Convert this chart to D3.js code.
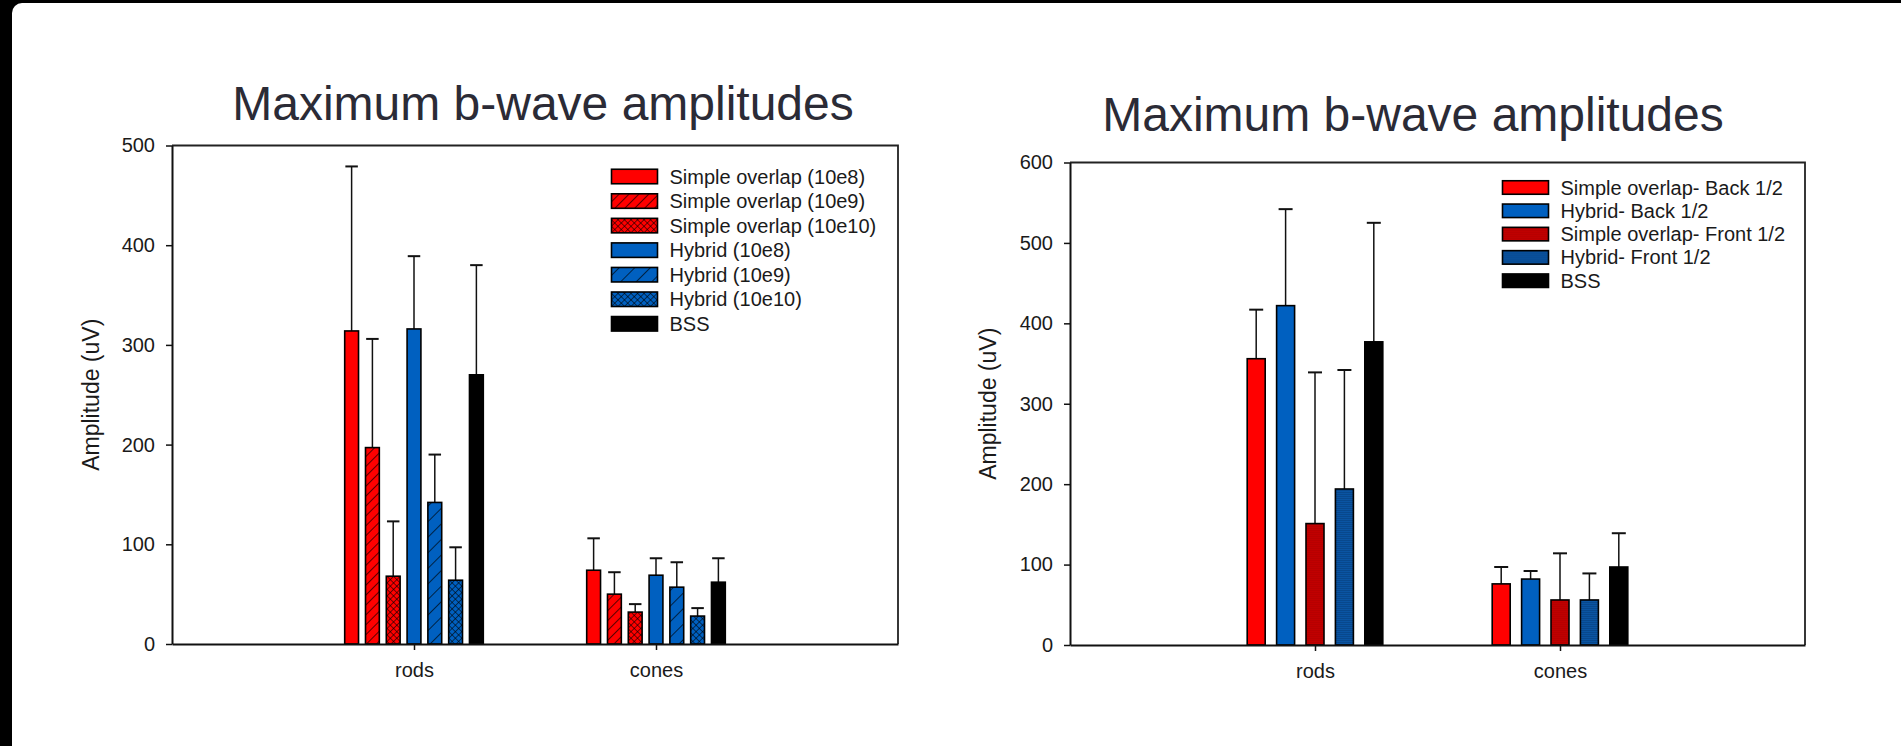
<!DOCTYPE html>
<html>
<head>
<meta charset="utf-8">
<script src="https://cdn.jsdelivr.net/npm/d3@7"></script>
<style>
    body { margin: 0; background: #000; width: 1901px; height: 746px; overflow: hidden; position: relative; }
    #sheet { position: absolute; left: 12px; top: 3px; width: 1889px; height: 743px; background: #fff; border-top-left-radius: 10px; }
    #chart { position: absolute; left: 0; top: 0; }
    text { font-family: "Liberation Sans", Arial, sans-serif; fill: #1a1a1a; }
</style>
</head>
<body>
<div id="sheet"></div>
<svg id="chart" width="1901" height="746"></svg>
<script>
// ---- data ----
const categories = ["rods", "cones"];

// left panel
const leftSeries = ["Simple overlap (10e8)", "Simple overlap (10e9)", "Simple overlap (10e10)",
    "Hybrid (10e8)", "Hybrid (10e9)", "Hybrid (10e10)", "BSS"];
const leftRods = [314, 197, 68, 316, 142, 64, 270];
const leftCones = [74, 50, 32, 69, 57, 28, 62];
const leftRodsErr = [165, 109, 55, 73, 48, 33, 110];
const leftConesErr = [32, 22, 8, 17, 25, 8, 24];
const leftTicks = [0, 100, 200, 300, 400, 500];

// right panel
const rightSeries = ["Simple overlap- Back 1/2", "Hybrid- Back 1/2", "Simple overlap- Front 1/2",
    "Hybrid- Front 1/2", "BSS"];
const rightRods = [356, 422, 151, 194, 377];
const rightCones = [76, 82, 56, 56, 97];
const rightRodsErr = [61, 120, 188, 148, 148];
const rightConesErr = [21, 10, 58, 33, 42];
const rightTicks = [0, 100, 200, 300, 400, 500, 600];

const titleText = "Maximum b-wave amplitudes";
const yLabel = "Amplitude (uV)";

const svg = d3.select("#chart");
const defs = svg.append("defs");

// fill patterns
function hatch(id, color, gap) {
    const p = defs.append("pattern").attr("id", id)
        .attr("patternUnits", "userSpaceOnUse")
        .attr("width", gap).attr("height", gap)
        .attr("patternTransform", "rotate(45)");
    p.append("rect").attr("width", gap).attr("height", gap).attr("fill", color);
    p.append("line").attr("x1", 0).attr("y1", 0).attr("x2", 0).attr("y2", gap)
        .attr("stroke", "#000").attr("stroke-width", 1.3);
}
function cross(id, color) {
    const s = 4.6;
    const p = defs.append("pattern").attr("id", id)
        .attr("patternUnits", "userSpaceOnUse")
        .attr("width", s).attr("height", s)
        .attr("patternTransform", "rotate(45)");
    p.append("rect").attr("width", s).attr("height", s).attr("fill", color);
    p.append("line").attr("x1", 0).attr("y1", 0).attr("x2", 0).attr("y2", s)
        .attr("stroke", "#000").attr("stroke-width", 1.1);
    p.append("line").attr("x1", 0).attr("y1", 0).attr("x2", s).attr("y2", 0)
        .attr("stroke", "#000").attr("stroke-width", 1.1);
}
function lined(id, color, lineColor) {
    const p = defs.append("pattern").attr("id", id)
        .attr("patternUnits", "userSpaceOnUse")
        .attr("width", 4).attr("height", 2);
    p.append("rect").attr("width", 4).attr("height", 2).attr("fill", color);
    p.append("line").attr("x1", 0).attr("y1", 0.5).attr("x2", 4).attr("y2", 0.5)
        .attr("stroke", lineColor).attr("stroke-width", 0.6);
}
hatch("hatchRed", "#ff0000", 7);
hatch("hatchBlue", "#0060c0", 11);
cross("crossRed", "#ff0000");
cross("crossBlue", "#0060c0");
lined("frontRed", "#c00000", "#b00000");
lined("frontBlue", "#0a54a2", "#073f80");

const leftFills = ["#ff0000", "url(#hatchRed)", "url(#crossRed)",
    "#0060c0", "url(#hatchBlue)", "url(#crossBlue)", "#000000"];
const rightFills = ["#ff0000", "#0060c0", "url(#frontRed)", "url(#frontBlue)", "#000000"];

function drawPanel(cfg) {
    const x = d3.scalePoint().domain(categories).range([cfg.x0, cfg.x1]).padding(1);
    const y = d3.scaleLinear().domain([0, cfg.yMax]).range([cfg.yBottom, cfg.yTop]);
    const inner = d3.scaleBand().domain(cfg.series).range([-cfg.groupHalf, cfg.groupHalf])
        .paddingInner(cfg.pad);

    const g = svg.append("g");

    // title
    g.append("text")
        .attr("x", cfg.titleX).attr("y", cfg.titleY)
        .attr("text-anchor", "middle")
        .style("font-size", "48px").style("fill", "#2b2b36")
        .text(titleText);

    // y label
    g.append("text")
        .attr("transform", `translate(${cfg.labelX}, ${(cfg.yTop + cfg.yBottom) / 2}) rotate(-90)`)
        .attr("text-anchor", "middle").attr("dy", "0.35em")
        .style("font-size", "23px")
        .text(yLabel);

    // frame (top and right)
    g.append("path")
        .attr("d", `M${cfg.x0},${cfg.yTop}H${cfg.x1}V${cfg.yBottom}`)
        .attr("fill", "none").attr("stroke", "#222").attr("stroke-width", 1.8);

    // bars
    const rows = [];
    categories.forEach((c, ci) => {
        cfg.series.forEach((s, si) => {
            rows.push({ cat: c, series: s, i: si, v: cfg.values[ci][si], e: cfg.errs[ci][si] });
        });
    });

    // error bars first so bars sit on top of the stem
    const eb = g.append("g");
    rows.forEach(d => {
        const cx = x(d.cat) + inner(d.series) + inner.bandwidth() / 2;
        eb.append("line")
            .attr("x1", cx).attr("x2", cx)
            .attr("y1", y(d.v)).attr("y2", y(d.v + d.e))
            .attr("stroke", "#111").attr("stroke-width", 1.5);
        eb.append("line")
            .attr("x1", cx - cfg.cap / 2).attr("x2", cx + cfg.cap / 2)
            .attr("y1", y(d.v + d.e)).attr("y2", y(d.v + d.e))
            .attr("stroke", "#111").attr("stroke-width", 2);
    });

    g.selectAll("rect.bar")
        .data(rows)
        .join("rect")
        .attr("class", "bar")
        .attr("x", d => x(d.cat) + inner(d.series))
        .attr("y", d => y(d.v))
        .attr("width", inner.bandwidth())
        .attr("height", d => y(0) - y(d.v))
        .attr("fill", d => cfg.fills[d.i])
        .attr("stroke", "#000").attr("stroke-width", 1.6);

    // axes
    const yAxis = g.append("g")
        .attr("transform", `translate(${cfg.x0},0)`)
        .call(d3.axisLeft(y).tickValues(cfg.ticks).tickSize(6).tickPadding(11).tickSizeOuter(0));
    const xAxis = g.append("g")
        .attr("transform", `translate(0,${cfg.yBottom})`)
        .call(d3.axisBottom(x).tickSize(6).tickPadding(12.5).tickSizeOuter(0));
    [yAxis, xAxis].forEach(a => {
        a.select(".domain").attr("stroke", "#111").attr("stroke-width", 2);
        a.selectAll(".tick line").attr("stroke", "#111").attr("stroke-width", 1.5);
        a.selectAll(".tick text").style("font-size", "20px").style("font-family", "Liberation Sans, Arial, sans-serif")
            .attr("fill", "#1a1a1a");
    });

    // legend
    const lg = g.append("g").attr("transform", `translate(${cfg.legX},${cfg.legY})`);
    cfg.series.forEach((s, i) => {
        const row = lg.append("g").attr("transform", `translate(0,${i * cfg.legStep})`);
        row.append("rect")
            .attr("x", 0).attr("y", -cfg.swH / 2)
            .attr("width", 46).attr("height", cfg.swH)
            .attr("fill", cfg.fills[i]).attr("stroke", "#000").attr("stroke-width", 1.6);
        row.append("text")
            .attr("x", 58).attr("y", 0).attr("dy", "0.35em")
            .style("font-size", "20px")
            .text(s);
    });
}

drawPanel({
    x0: 172, x1: 898, yTop: 145.5, yBottom: 644, yMax: 500, ticks: leftTicks,
    series: leftSeries, fills: leftFills,
    values: [leftRods, leftCones], errs: [leftRodsErr, leftConesErr],
    groupHalf: 69.3, pad: 0.335, cap: 12.5,
    titleX: 543, titleY: 120, labelX: 91,
    legX: 611.5, legY: 176.5, legStep: 24.55, swH: 14.5
});

drawPanel({
    x0: 1070, x1: 1805, yTop: 162.5, yBottom: 645, yMax: 600, ticks: rightTicks,
    series: rightSeries, fills: rightFills,
    values: [rightRods, rightCones], errs: [rightRodsErr, rightConesErr],
    groupHalf: 67.8, pad: 0.388, cap: 14,
    titleX: 1413, titleY: 131, labelX: 988,
    legX: 1502.5, legY: 187.5, legStep: 23.3, swH: 13.5
});
</script>
</body>
</html>
